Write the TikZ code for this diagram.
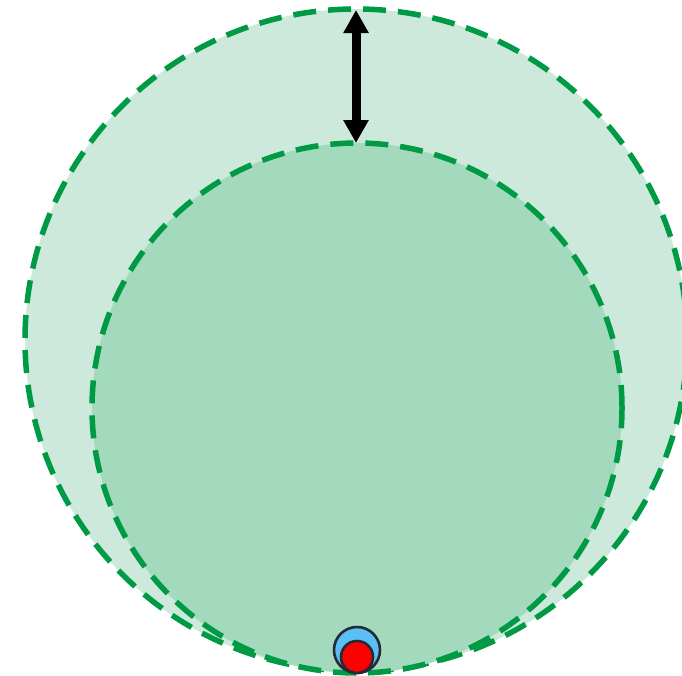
\documentclass[tikz,border=0pt]{standalone}
\usetikzlibrary{arrows.meta}
\definecolor{dashgreen}{HTML}{009A44}
\definecolor{outerfill}{HTML}{CDE9DB}
\definecolor{innerfill}{HTML}{A3D9BC}
\definecolor{bluefill}{HTML}{5BBFF5}
\definecolor{rim}{HTML}{262A33}
\tikzset{
  zone/.style={circle, draw=dashgreen, line width=5.5pt, dash pattern=on 23pt off 12pt, inner sep=0pt, outer sep=0pt},
  dot/.style={circle, draw=rim, line width=2.6pt, inner sep=0pt},
  gap/.style={line width=9pt, {Triangle[width=24pt,length=23pt]}-{Triangle[width=24pt,length=23pt]}}
}
\begin{document}
\begin{tikzpicture}[x=1pt,y=-1pt]
\useasboundingbox (0,0) rectangle (682,675);
\begin{scope}
\clip (0,0) rectangle (682,675);
\node[zone, fill=outerfill, minimum size=662pt] (outer) at (356,340) {};
\node[zone, fill=innerfill, minimum size=530pt] (inner) at (357,408) {};
\node[dot, fill=bluefill, minimum size=46pt] (blue) at (357,650) {};
\node[dot, fill=red, minimum size=32pt] (red) at (357,657) {};
\end{scope}
\coordinate (top) at (356,10);
\coordinate (bot) at (356,143);
\draw[gap] (top) -- (bot);
\end{tikzpicture}
\end{document}
